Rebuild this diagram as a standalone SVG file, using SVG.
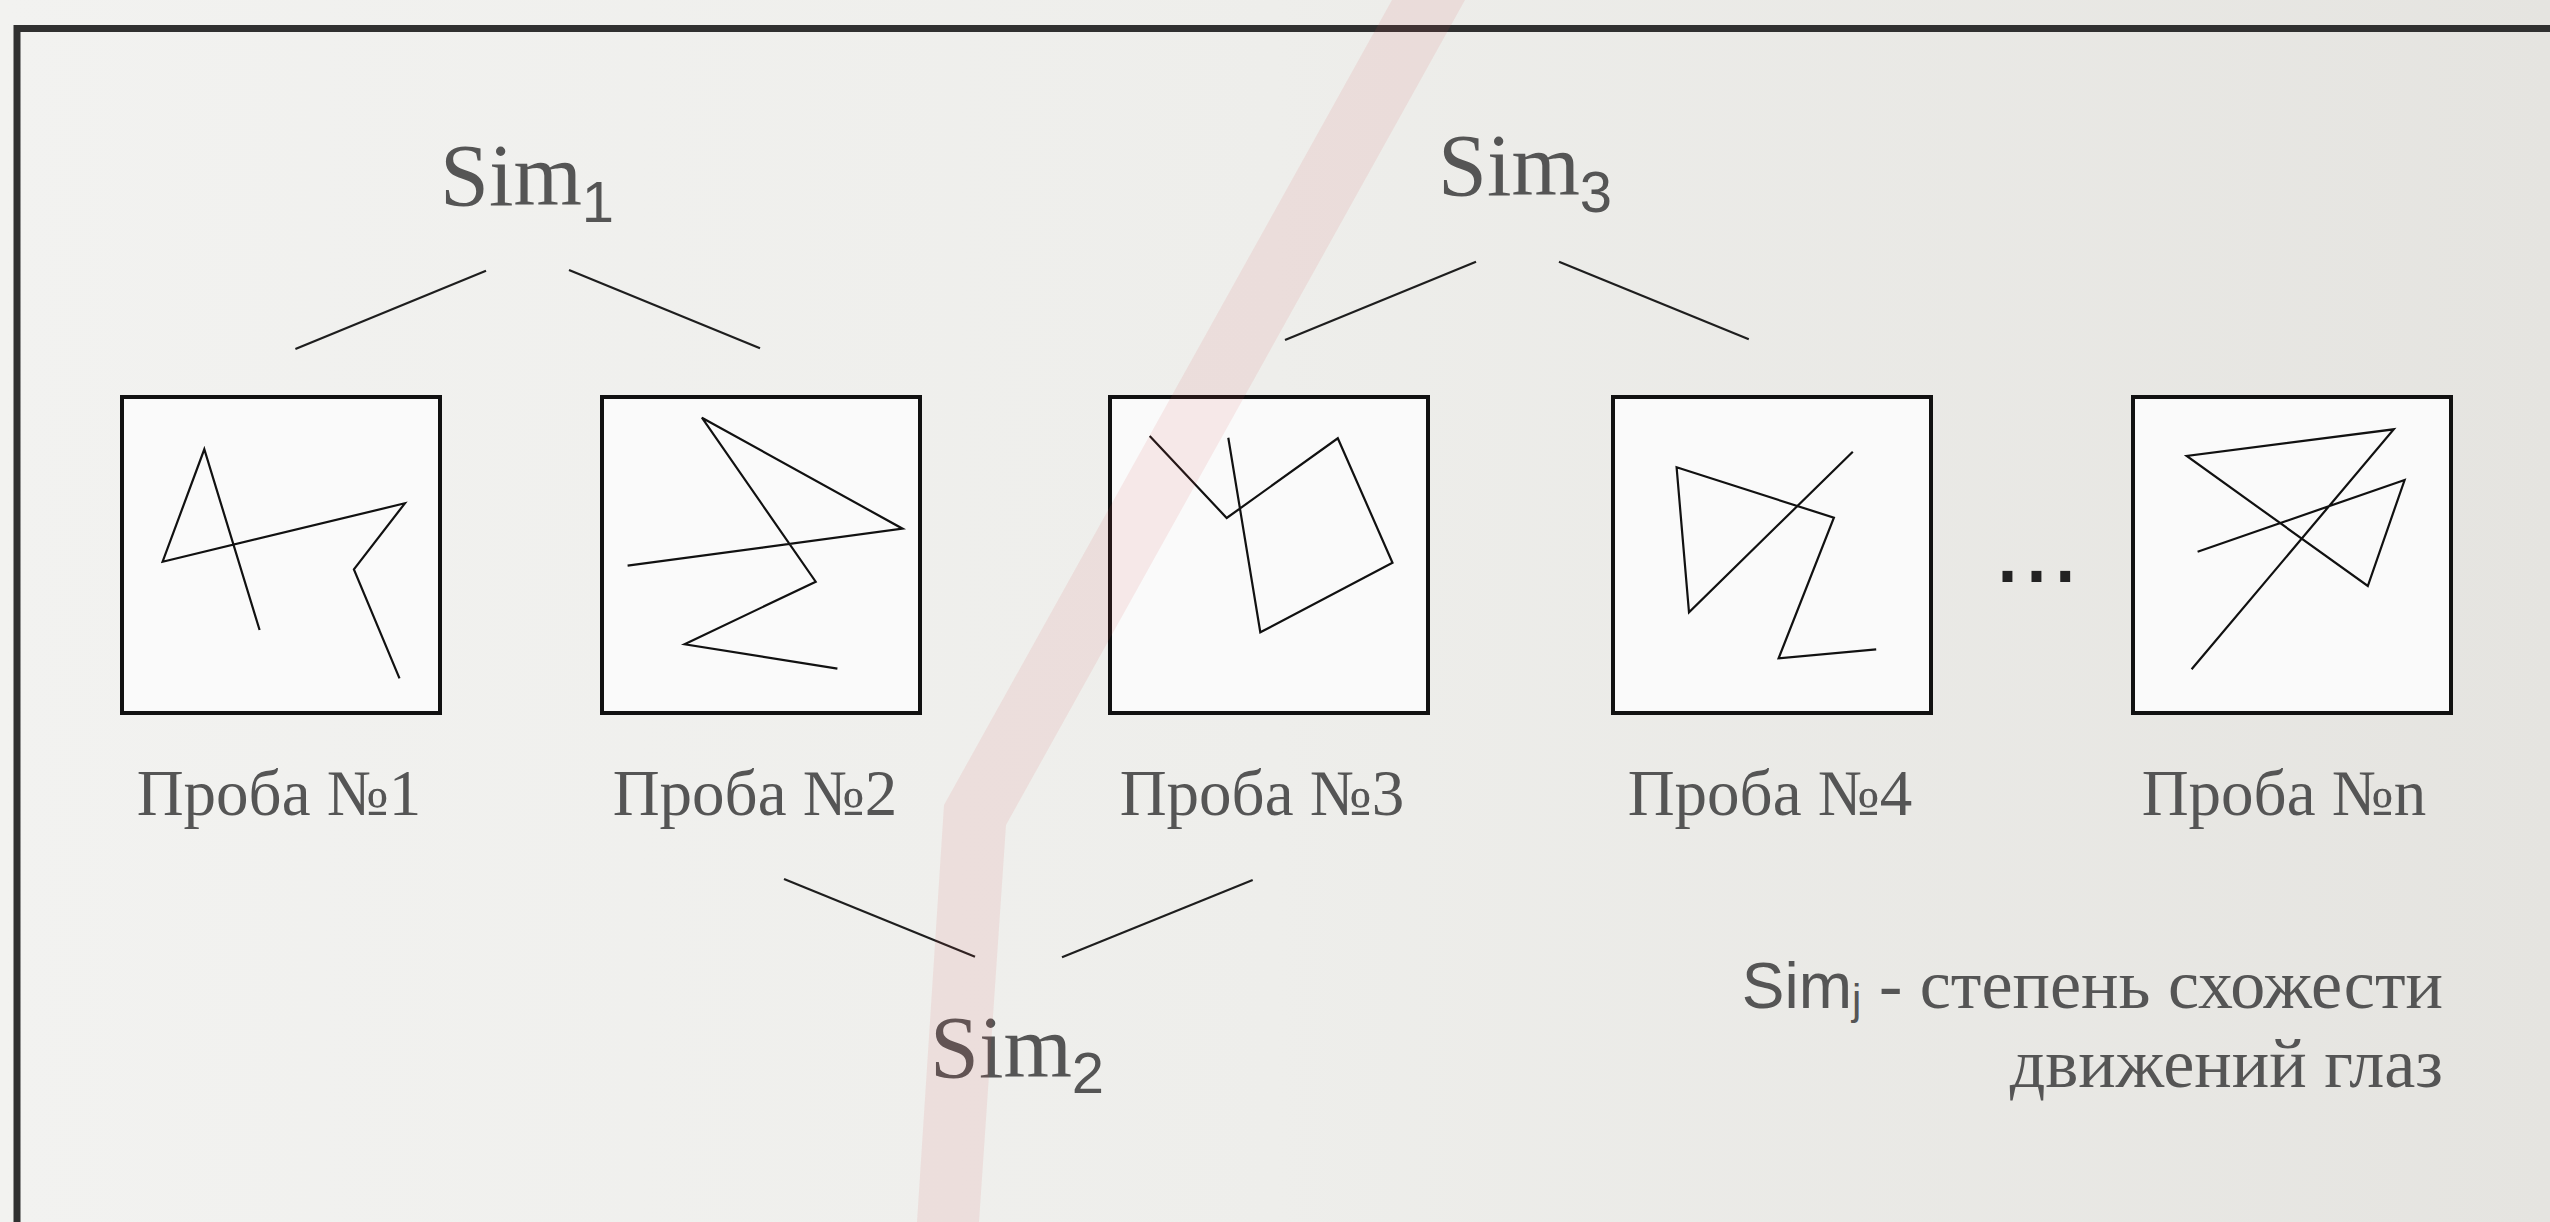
<svg xmlns="http://www.w3.org/2000/svg" width="2550" height="1222" viewBox="0 0 2550 1222">
  <defs>
    <linearGradient id="bg" x1="0" y1="0" x2="1" y2="0">
      <stop offset="0" stop-color="#f2f2f0"/>
      <stop offset="0.5" stop-color="#eeeeeb"/>
      <stop offset="1" stop-color="#e5e4e0"/>
    </linearGradient>
    <style>
      .box { fill: #fafafa; stroke: #111; stroke-width: 4; }
      .trace { fill: none; stroke: #111; stroke-width: 2.2; stroke-linejoin: miter; }
      .conn { stroke: #1e1e1e; stroke-width: 2.2; fill: none; }
      .sim { font-family: "Liberation Serif", "Times New Roman", serif; font-size: 88px; fill: #555; }
      .sub { font-family: "Liberation Sans", Arial, sans-serif; font-size: 58px; fill: #555; }
      .lbl { font-family: "Liberation Serif", "Times New Roman", serif; font-size: 65px; fill: #555; text-anchor: middle; }
      .leg { font-family: "Liberation Serif", "Times New Roman", serif; font-size: 70px; fill: #555; }
      .legs { font-family: "Liberation Sans", Arial, sans-serif; fill: #555; }
    </style>
  </defs>

  <rect x="0" y="0" width="2550" height="1222" fill="url(#bg)"/>
  <rect id="frame" x="17" y="28.5" width="2600" height="1300" fill="none" stroke="#303030" stroke-width="7"/>

  <g id="connectors">
    <line class="conn" x1="486" y1="270.7" x2="295.4" y2="349"/>
    <line class="conn" x1="569" y1="270" x2="760" y2="348.3"/>
    <line class="conn" x1="1476" y1="261.7" x2="1285" y2="340"/>
    <line class="conn" x1="1559" y1="261.7" x2="1748.8" y2="339.3"/>
    <line class="conn" x1="784" y1="879" x2="975" y2="956.7"/>
    <line class="conn" x1="1062" y1="957.3" x2="1252.7" y2="880"/>
  </g>

  <g id="sim1">
    <text class="sim" x="440" y="205">Sim<tspan class="sub" dy="17">1</tspan></text>
  </g>
  <g id="sim3">
    <text class="sim" x="1438" y="195">Sim<tspan class="sub" dy="17">3</tspan></text>
  </g>
  <g id="sim2">
    <text class="sim" x="930" y="1077">Sim<tspan class="sub" dy="16">2</tspan></text>
  </g>

  <g id="probe1">
    <rect class="box" x="122" y="397" width="318" height="316"/>
    <polyline class="trace" points="259.6,630 204.3,449.3 162.6,561.7 404.9,503.3 353.9,569.3 399.5,678.3"/>
    <text class="lbl" x="279" y="815">Проба №1</text>
  </g>
  <g id="probe2">
    <rect class="box" x="602" y="397" width="318" height="316"/>
    <polyline class="trace" points="627.6,565.7 902.6,528.7 701.9,417.7 815.7,581.7 684.6,644.3 837.4,668.7"/>
    <text class="lbl" x="755" y="815">Проба №2</text>
  </g>
  <g id="probe3">
    <rect class="box" x="1110" y="397" width="318" height="316"/>
    <polyline class="trace" points="1149.7,436 1226.7,518 1337.8,438.3 1392.5,562.7 1260.3,632.3 1228.3,437.7"/>
    <text class="lbl" x="1262" y="815">Проба №3</text>
  </g>
  <g id="probe4">
    <rect class="box" x="1613" y="397" width="318" height="316"/>
    <polyline class="trace" points="1852.8,451.7 1689,612.3 1676.6,467.3 1833.9,517.7 1778.6,658.3 1876.2,649.3"/>
    <text class="lbl" x="1770" y="815">Проба №4</text>
  </g>
  <g id="ellipsis">
    <text x="1993" y="582" font-family="'Liberation Sans', Arial, sans-serif" font-size="104" fill="#222">...</text>
  </g>
  <g id="probeN">
    <rect class="box" x="2133" y="397" width="318" height="316"/>
    <polyline class="trace" points="2191.6,669.3 2393.8,429.3 2186.7,456 2367.8,586 2404.6,480 2197.6,551.7"/>
    <text class="lbl" x="2284" y="815">Проба №n</text>
  </g>

  <g id="legend">
    <text x="2443" y="1008" text-anchor="end"><tspan class="legs" font-size="64">Sim</tspan><tspan class="legs" font-size="42" dy="6">j</tspan><tspan class="leg" dy="-6"> - степень схожести</tspan></text>
    <text class="leg" x="2443" y="1087" text-anchor="end">движений глаз</text>
  </g>

  <polygon id="stripe" points="1392,0 1465,0 1006,825 979,1222 917,1222 944,805" fill="#dc4c4c" fill-opacity="0.10"/>
</svg>
